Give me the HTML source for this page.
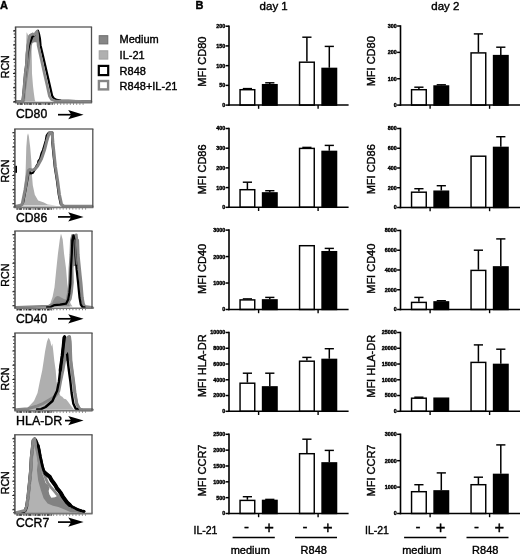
<!DOCTYPE html><html><head><meta charset="utf-8"><title>Figure</title>
<style>html,body{margin:0;padding:0;background:#fff}svg{display:block;will-change:transform}text{font-family:"Liberation Sans", sans-serif;fill:#000;stroke:#000;stroke-width:0.38px}</style>
</head><body>
<svg width="520" height="554" viewBox="0 0 520 554">
<rect width="520" height="554" fill="#fff"/>
<text x="0.1" y="8.7" font-size="11" font-weight="bold">A</text>
<text x="195.6" y="9.3" font-size="11" font-weight="bold">B</text>
<text x="259.6" y="10.3" font-size="11.5">day 1</text>
<text x="431.3" y="10.3" font-size="11.5">day 2</text>
<rect x="99.2" y="35.7" width="8.6" height="8.2" fill="#868686" stroke="#6b6b6b" stroke-width="1"/>
<rect x="99.2" y="50.8" width="8.6" height="8.3" fill="#b0b0b0" stroke="#a0a0a0" stroke-width="1"/>
<rect x="98.8" y="65.9" width="9.4" height="9.2" fill="#fff" stroke="#000" stroke-width="2.2"/>
<rect x="98.9" y="81" width="9.2" height="8.4" fill="#fff" stroke="#858585" stroke-width="2.4"/>
<text x="119.6" y="43.0" font-size="11">Medium</text>
<text x="119.6" y="58.9" font-size="11">IL-21</text>
<text x="119.6" y="74.6" font-size="11">R848</text>
<text x="119.6" y="90.2" font-size="11">R848+IL-21</text>
<polygon points="21.8,101.5 22.8,93.0 24.4,74.0 25.4,60.0 26.2,45.0 26.6,32.3 27.6,34.0 29.5,40.0 31.5,46.0 31.7,55.0 31.9,65.0 32.0,73.6 33.0,86.0 33.8,92.8 34.8,100.0 35.5,101.5" fill="#afafaf"/>
<polygon points="21.4,101.5 22.3,92.8 23.9,73.6 25.1,64.5 25.6,54.8 26.6,45.2 27.5,40.4 28.5,35.6 30.0,34.0 32.8,32.7 34.6,33.6 36.0,31.5 37.4,30.0 39.0,31.0 40.0,36.0 40.4,41.0 38.0,43.5 36.4,42.2 34.3,42.3 32.5,43.0 31.6,46.0 30.6,55.0 29.6,64.5 28.2,73.6 26.6,85.0 25.6,92.8 25.0,101.5" fill="#858585"/>
<polyline points="16.0,101.7 21.5,101.7 22.8,100.5 23.7,92.8 25.3,73.6 26.5,64.5 27.4,54.8 29.1,45.2 30.8,41.0 32.3,36.8 34.6,35.2 36.2,32.8 37.9,30.6 39.0,34.0 40.0,39.0 40.5,45.2 42.8,55.0 45.1,65.0 47.4,75.0 49.7,85.0 52.2,96.0 54.0,98.6 56.6,99.9 61.0,100.7 91.0,101.7" fill="none" stroke="#000" stroke-width="2.2" stroke-linejoin="round" stroke-linecap="round"/>
<polyline points="16.0,101.7 21.0,101.7 22.6,100.5 23.6,92.8 25.2,73.6 26.4,64.5 26.9,54.8 27.9,45.2 28.8,40.4 29.8,35.6 32.8,33.9 34.6,34.8 36.0,32.5 37.0,31.3 37.6,35.0 38.1,45.2 40.3,55.0 42.5,65.0 44.7,75.0 47.0,85.0 49.4,96.0 51.5,99.5 55.0,100.8 91.0,101.7" fill="none" stroke="#888888" stroke-width="2.7" stroke-linejoin="round" stroke-linecap="round"/>
<line x1="14.85" y1="27.0" x2="92.1" y2="27.0" stroke="#6c6c6c" stroke-width="1.6"/>
<line x1="14.85" y1="102.6" x2="92.1" y2="102.6" stroke="#777" stroke-width="1.6"/>
<line x1="15.6" y1="27.0" x2="15.6" y2="102.6" stroke="#484848" stroke-width="1.5"/>
<line x1="91.5" y1="27.0" x2="91.5" y2="102.6" stroke="#505050" stroke-width="1.3"/>
<line x1="14.4" y1="30.0" x2="14.4" y2="102.6" stroke="#333" stroke-width="1.3" stroke-dasharray="0.9 2.65"/>
<line x1="14.1" y1="30.4" x2="14.1" y2="102.6" stroke="#222" stroke-width="2.2" stroke-dasharray="1 13.2"/>
<line x1="18.6" y1="104.0" x2="85.5" y2="104.0" stroke="#777" stroke-width="1.3" stroke-dasharray="1 2.2"/>
<line x1="17.1" y1="104.1" x2="53.6" y2="104.1" stroke="#2a2a2a" stroke-width="1.5" stroke-dasharray="1.4 1.3 2.6 1.6 0.9 1.5"/>
<text x="16" y="118" font-size="12.2">CD80</text>
<line x1="58" y1="114.7" x2="72" y2="114.7" stroke="#000" stroke-width="1.7"/>
<polygon points="83.6,114.7 68.2,110.10000000000001 71.2,114.7 68.2,119.3" fill="#000"/>
<text transform="translate(8.6,66.8) rotate(-90)" text-anchor="middle" font-size="10.6">RCN</text>
<polygon points="21.0,205.6 24.0,192.0 25.6,172.0 25.9,161.7 26.3,147.2 27.2,136.0 28.0,133.3 28.8,136.0 30.2,147.2 31.4,161.7 31.9,174.7 32.8,185.2 34.8,194.8 38.1,200.6 43.9,202.5 47.7,204.5 56.4,205.6" fill="#adadad"/>
<polyline points="16.0,206.3 21.0,205.4 23.2,202.5 25.6,190.0 27.6,179.0 29.0,170.8 30.9,173.6 33.0,172.8 34.6,170.0 36.1,166.5 38.0,163.4 38.3,161.0 40.0,158.8 41.4,153.4 42.9,150.1 44.4,145.0 45.7,140.5 46.6,135.5 47.6,134.0 48.8,132.6 52.5,132.6 52.2,142.4 53.2,153.0 54.6,166.5 56.8,180.4 58.7,194.8 60.6,204.0 63.0,206.3" fill="none" stroke="#000" stroke-width="2.0" stroke-linejoin="round" stroke-linecap="round"/>
<polyline points="16.0,206.3 20.0,205.4 22.1,204.5 25.0,190.0 26.9,178.5 28.2,170.8 29.5,169.4 31.5,170.0 33.5,169.8 35.5,168.6 37.6,166.0 41.5,158.8 44.5,150.1 46.8,141.0 48.6,135.0 49.6,133.0 51.5,133.0 52.4,136.0 52.9,142.4 54.0,153.0 55.4,166.5 57.6,180.4 59.5,194.8 61.6,204.5 64.0,206.3 92.0,206.3" fill="none" stroke="#848484" stroke-width="3.0" stroke-linejoin="round" stroke-linecap="round"/>
<rect x="14.6" y="165.8" width="2.4" height="7" fill="#000"/>
<line x1="14.15" y1="128.95" x2="93.39999999999999" y2="128.95" stroke="#6c6c6c" stroke-width="1.6"/>
<line x1="14.15" y1="207.4" x2="93.39999999999999" y2="207.4" stroke="#777" stroke-width="1.6"/>
<line x1="14.9" y1="128.95" x2="14.9" y2="207.4" stroke="#484848" stroke-width="1.5"/>
<line x1="92.8" y1="128.95" x2="92.8" y2="207.4" stroke="#505050" stroke-width="1.3"/>
<line x1="13.700000000000001" y1="131.95" x2="13.700000000000001" y2="207.4" stroke="#333" stroke-width="1.3" stroke-dasharray="0.9 2.65"/>
<line x1="13.4" y1="132.35" x2="13.4" y2="207.4" stroke="#222" stroke-width="2.2" stroke-dasharray="1 13.2"/>
<line x1="17.9" y1="208.8" x2="86.8" y2="208.8" stroke="#777" stroke-width="1.3" stroke-dasharray="1 2.2"/>
<line x1="16.4" y1="208.9" x2="52.9" y2="208.9" stroke="#2a2a2a" stroke-width="1.5" stroke-dasharray="1.4 1.3 2.6 1.6 0.9 1.5"/>
<text x="16" y="221.7" font-size="12.2">CD86</text>
<line x1="58" y1="216.9" x2="72" y2="216.9" stroke="#000" stroke-width="1.7"/>
<polygon points="83.6,216.9 68.2,212.3 71.2,216.9 68.2,221.5" fill="#000"/>
<text transform="translate(8.6,171.1) rotate(-90)" text-anchor="middle" font-size="10.6">RCN</text>
<polygon points="49.5,306.5 50.6,302.6 52.6,296.8 54.5,287.2 56.4,268.3 57.9,254.0 59.8,239.6 60.8,234.3 61.2,234.3 62.7,239.6 64.1,254.0 66.0,268.3 67.2,282.4 68.0,292.0 69.0,299.0 70.8,304.0 72.5,306.5" fill="#afafaf"/>
<polygon points="51.0,306.5 53.0,301.0 55.0,297.6 57.0,296.0 59.0,296.2 61.0,297.6 64.0,299.0 67.0,300.0 69.0,304.0 70.0,306.5" fill="#8c8c8c"/>
<polygon points="72.4,266.0 73.9,254.0 74.5,241.0 75.3,235.2 76.4,234.8 76.9,239.6 77.4,254.0 78.6,266.0" fill="#888888"/>
<polyline points="16.0,307.2 49.0,306.0 52.0,304.4 56.0,303.0 60.0,302.6 64.0,302.4 68.5,302.0 70.4,298.8 71.6,292.0 72.5,282.4 72.2,268.0 73.9,254.0 74.5,241.0 75.3,235.2 76.4,234.8 76.9,239.6 77.4,254.0 78.8,268.0 79.5,275.0 80.3,282.4 81.5,296.8 82.6,303.0 84.3,306.3 92.0,307.2" fill="none" stroke="#888888" stroke-width="2.6" stroke-linejoin="round" stroke-linecap="round"/>
<polyline points="64.9,303.7 67.1,299.5 68.3,292.7 69.3,283.1 69.8,268.7 70.7,254.7 71.2,240.3 72.4,235.3 73.5,240.3" fill="none" stroke="#888888" stroke-width="2.4" stroke-linejoin="round" stroke-linecap="round"/>
<polyline points="77.9,240.3 78.4,254.7 79.8,268.7 80.5,275.7 81.3,283.1 82.5,297.5 83.6,303.7 85.3,307.0 93.0,307.9" fill="none" stroke="#888888" stroke-width="2.4" stroke-linejoin="round" stroke-linecap="round"/>
<polyline points="47.0,307.3 50.6,307.0 54.5,305.1 60.0,304.7 66.0,303.7 68.2,299.5 69.4,292.7 70.4,283.1 70.9,268.7 71.8,254.7 72.3,240.3 73.5,235.3 74.6,240.3 75.4,254.7 76.6,269.2 78.1,283.1 79.5,297.5 80.8,304.7 82.4,307.0 84.5,307.4" fill="none" stroke="#000" stroke-width="2.2" stroke-linejoin="round" stroke-linecap="round"/>
<polyline points="75.0,240.0 75.7,254.0 76.6,264.0" fill="none" stroke="#6a6a6a" stroke-width="1.6" stroke-linejoin="round" stroke-linecap="round"/>
<line x1="14.25" y1="230.95" x2="92.6" y2="230.95" stroke="#6c6c6c" stroke-width="1.6"/>
<line x1="14.25" y1="308.2" x2="92.6" y2="308.2" stroke="#777" stroke-width="1.6"/>
<line x1="15.0" y1="230.95" x2="15.0" y2="308.2" stroke="#484848" stroke-width="1.5"/>
<line x1="92.0" y1="230.95" x2="92.0" y2="308.2" stroke="#505050" stroke-width="1.3"/>
<line x1="13.8" y1="233.95" x2="13.8" y2="308.2" stroke="#333" stroke-width="1.3" stroke-dasharray="0.9 2.65"/>
<line x1="13.5" y1="234.35" x2="13.5" y2="308.2" stroke="#222" stroke-width="2.2" stroke-dasharray="1 13.2"/>
<line x1="18.0" y1="309.59999999999997" x2="86.0" y2="309.59999999999997" stroke="#777" stroke-width="1.3" stroke-dasharray="1 2.2"/>
<line x1="16.5" y1="309.7" x2="53.0" y2="309.7" stroke="#2a2a2a" stroke-width="1.5" stroke-dasharray="1.4 1.3 2.6 1.6 0.9 1.5"/>
<text x="16" y="323.3" font-size="12.2">CD40</text>
<line x1="58" y1="318.8" x2="72" y2="318.8" stroke="#000" stroke-width="1.7"/>
<polygon points="83.6,318.8 68.2,314.2 71.2,318.8 68.2,323.40000000000003" fill="#000"/>
<text transform="translate(8.6,275.2) rotate(-90)" text-anchor="middle" font-size="10.6">RCN</text>
<polygon points="26.0,409.4 29.5,405.8 34.0,401.0 37.5,393.0 39.8,381.5 42.2,370.5 43.7,360.8 45.1,351.2 47.0,341.6 48.5,337.8 49.4,339.0 50.4,341.6 51.4,346.4 52.3,343.5 53.3,351.2 54.3,360.8 55.7,370.5 56.6,381.5 58.3,390.8 60.6,396.0 62.0,396.6 64.0,398.8 66.0,399.2 67.5,401.0 71.0,405.8 72.7,408.0 74.0,409.4" fill="#afafaf"/>
<polygon points="64.6,360.8 65.6,351.0 67.0,341.6 68.0,337.3 69.2,336.5 69.8,341.6 70.2,351.2 70.6,360.8" fill="#888888"/>
<polyline points="16.0,409.8 28.0,408.6 32.0,407.5 37.5,405.8 43.0,403.5 49.0,400.0 54.8,396.5 57.5,393.5 58.9,390.8 60.6,381.5 62.9,370.5 64.6,360.8 65.6,351.0 67.0,341.6 68.0,337.3 69.2,336.5 69.8,341.6 70.2,351.2 70.6,360.8 71.8,370.5 73.3,381.5 74.7,393.0 76.5,403.4 79.0,408.6 82.0,409.8 92.0,409.8" fill="none" stroke="#888888" stroke-width="2.9" stroke-linejoin="round" stroke-linecap="round"/>
<polyline points="37.0,409.4 41.0,409.2 45.6,407.0 49.0,404.0 52.5,401.0 55.4,394.2 57.1,390.8 58.9,381.5 60.2,370.5 62.2,356.0 63.2,346.8 64.1,337.6 64.6,336.8 65.5,339.3 66.5,346.8 67.7,360.8 68.9,370.5 70.4,381.5 71.6,393.0 73.3,403.4 75.6,408.6 78.0,409.4" fill="none" stroke="#000" stroke-width="2.4" stroke-linejoin="round" stroke-linecap="round"/>
<polygon points="65.4,338.6 66.6,337.0 69.2,336.2 70.6,337.5 71.2,345.0 71.6,354.0 69.0,354.5 67.8,352.0 66.4,354.0 64.4,354.0 64.7,346.8" fill="#888888"/>
<polyline points="60.2,370.5 62.2,356.0 63.2,346.8 64.1,337.6 64.6,336.8" fill="none" stroke="#000" stroke-width="3.2" stroke-linejoin="round" stroke-linecap="round"/>
<polyline points="69.9,336.5 70.5,341.6 70.9,351.2 71.3,360.8 72.5,370.5 74.0,381.5 75.4,393.0 77.2,403.4 79.7,408.6 82.7,409.8 92.7,409.8" fill="none" stroke="#888888" stroke-width="2.2" stroke-linejoin="round" stroke-linecap="round"/>
<line x1="14.25" y1="332.95" x2="92.6" y2="332.95" stroke="#6c6c6c" stroke-width="1.6"/>
<line x1="14.25" y1="410.6" x2="92.6" y2="410.6" stroke="#777" stroke-width="1.6"/>
<line x1="15.0" y1="332.95" x2="15.0" y2="410.6" stroke="#484848" stroke-width="1.5"/>
<line x1="92.0" y1="332.95" x2="92.0" y2="410.6" stroke="#505050" stroke-width="1.3"/>
<line x1="13.8" y1="335.95" x2="13.8" y2="410.6" stroke="#333" stroke-width="1.3" stroke-dasharray="0.9 2.65"/>
<line x1="13.5" y1="336.34999999999997" x2="13.5" y2="410.6" stroke="#222" stroke-width="2.2" stroke-dasharray="1 13.2"/>
<line x1="18.0" y1="412.0" x2="86.0" y2="412.0" stroke="#777" stroke-width="1.3" stroke-dasharray="1 2.2"/>
<line x1="16.5" y1="412.1" x2="53.0" y2="412.1" stroke="#2a2a2a" stroke-width="1.5" stroke-dasharray="1.4 1.3 2.6 1.6 0.9 1.5"/>
<text x="16" y="425.3" font-size="12.45">HLA-DR</text>
<line x1="65" y1="420.6" x2="72" y2="420.6" stroke="#000" stroke-width="1.7"/>
<polygon points="83.6,420.6 68.2,416.0 71.2,420.6 68.2,425.20000000000005" fill="#000"/>
<text transform="translate(8.6,379.0) rotate(-90)" text-anchor="middle" font-size="10.6">RCN</text>
<polygon points="22.5,512.7 24.0,510.4 25.4,506.3 26.7,497.0 28.1,483.5 29.4,470.0 30.0,458.0 31.0,448.8 31.9,440.4 33.4,438.8 34.8,438.4 36.4,440.6 37.6,448.0 38.6,456.0 39.8,464.0 41.0,470.0 44.2,478.4 45.6,483.0 48.4,485.4 49.4,488.6 48.6,491.0 49.4,494.5 51.3,497.8 55.0,497.2 58.7,495.0 60.5,496.2 62.4,499.1 65.5,503.0 71.8,508.0 77.2,510.6 80.0,512.7" fill="#828282"/>
<polygon points="23.9,512.7 26.4,504.0 28.3,487.0 29.9,467.8 31.2,453.0 32.3,443.9 34.3,439.4 35.0,440.0 36.0,448.0 37.0,456.0 37.8,463.0 36.9,470.0 38.2,480.8 40.9,490.2 43.6,498.3 47.6,503.6 53.0,505.7 58.4,507.0 65.1,509.7 72.0,512.7" fill="#b2b2b2"/>
<polyline points="22.6,512.7 25.3,510.4 26.7,506.3 28.0,497.0 29.4,483.5 30.7,470.0 31.3,458.0 32.3,448.8 33.2,440.4 34.7,438.8 34.9,439.0 36.0,440.6 37.4,444.0 38.2,445.8 39.0,449.5 40.2,456.2 41.2,461.0 42.4,466.5 43.6,470.5 45.4,473.2 47.5,475.0 49.8,476.9 51.6,480.2 53.5,482.8 55.4,485.4 57.2,488.7 59.0,490.6 60.9,493.2 62.8,496.6 64.6,499.1 67.0,502.4 69.8,505.0 72.6,507.2 75.7,508.7 78.6,510.0 81.6,510.9 84.0,511.5" fill="none" stroke="#000" stroke-width="3.0" stroke-linejoin="round" stroke-linecap="round"/>
<polyline points="16.0,512.7 25.1,510.4 26.5,506.3 27.8,497.0 29.2,483.5 30.5,470.0 31.1,458.0 32.1,448.8 33.0,440.4 34.5,438.8 34.6,439.1 35.2,441.6 36.0,447.0 37.4,452.0 38.4,458.0 39.6,464.0 41.4,469.0 43.9,473.5 45.8,478.4 47.6,482.8 50.4,486.6 53.5,490.2 56.0,493.2 58.7,496.1 61.2,498.5 63.9,500.8 66.8,503.2 69.8,505.4 74.5,509.0 80.0,512.7" fill="none" stroke="#888888" stroke-width="2.8" stroke-linejoin="round" stroke-linecap="round"/>
<polyline points="38.2,445.8 39.0,449.5 40.2,456.2 41.2,461.0 42.4,466.5 43.6,470.5 45.4,473.2 47.5,475.0 49.8,476.9 51.6,480.2 53.5,482.8 55.4,485.4 57.2,488.7 59.0,490.6 60.9,493.2 62.8,496.6 64.6,499.1 67.0,502.4 69.8,505.0 72.6,507.2 75.7,508.7 78.6,510.0 81.6,510.9 84.0,511.5" fill="none" stroke="#000" stroke-width="2.6" stroke-linejoin="round" stroke-linecap="round"/>
<polyline points="45.4,473.2 47.5,475.0 49.8,476.9 51.6,480.2 53.5,482.8 55.4,485.4 57.2,488.7 59.0,490.6 60.9,493.2 62.8,496.6 64.6,499.1 67.0,502.4 69.8,505.0" fill="none" stroke="#000" stroke-width="4.0" stroke-linejoin="round" stroke-linecap="round"/>
<polyline points="28.0,506.3 29.3,497.0 30.7,483.5 32.0,470.0 32.6,458.0 33.6,448.8 34.5,440.4" fill="none" stroke="#8f8f8f" stroke-width="0.9" stroke-linejoin="round" stroke-linecap="round"/>
<line x1="14.15" y1="434.8" x2="92.6" y2="434.8" stroke="#6c6c6c" stroke-width="1.6"/>
<line x1="14.15" y1="513.6" x2="92.6" y2="513.6" stroke="#777" stroke-width="1.6"/>
<line x1="14.9" y1="434.8" x2="14.9" y2="513.6" stroke="#484848" stroke-width="1.5"/>
<line x1="92.0" y1="434.8" x2="92.0" y2="513.6" stroke="#505050" stroke-width="1.3"/>
<line x1="13.700000000000001" y1="437.8" x2="13.700000000000001" y2="513.6" stroke="#333" stroke-width="1.3" stroke-dasharray="0.9 2.65"/>
<line x1="13.4" y1="438.2" x2="13.4" y2="513.6" stroke="#222" stroke-width="2.2" stroke-dasharray="1 13.2"/>
<line x1="17.9" y1="515.0" x2="86.0" y2="515.0" stroke="#777" stroke-width="1.3" stroke-dasharray="1 2.2"/>
<line x1="16.4" y1="515.1" x2="52.9" y2="515.1" stroke="#2a2a2a" stroke-width="1.5" stroke-dasharray="1.4 1.3 2.6 1.6 0.9 1.5"/>
<text x="16" y="527.0" font-size="12.2">CCR7</text>
<line x1="58" y1="522.1" x2="72" y2="522.1" stroke="#000" stroke-width="1.7"/>
<polygon points="83.6,522.1 68.2,517.5 71.2,522.1 68.2,526.7" fill="#000"/>
<text transform="translate(8.6,482.8) rotate(-90)" text-anchor="middle" font-size="10.6">RCN</text>
<line x1="225.6" y1="26.2" x2="229.0" y2="26.2" stroke="#000" stroke-width="1.5"/>
<text x="225.3" y="28.15" text-anchor="end" font-size="5.4" font-weight="bold">200</text>
<line x1="225.6" y1="45.925" x2="229.0" y2="45.925" stroke="#000" stroke-width="1.5"/>
<text x="225.3" y="47.875" text-anchor="end" font-size="5.4" font-weight="bold">150</text>
<line x1="225.6" y1="65.64999999999999" x2="229.0" y2="65.64999999999999" stroke="#000" stroke-width="1.5"/>
<text x="225.3" y="67.6" text-anchor="end" font-size="5.4" font-weight="bold">100</text>
<line x1="225.6" y1="85.375" x2="229.0" y2="85.375" stroke="#000" stroke-width="1.5"/>
<text x="225.3" y="87.325" text-anchor="end" font-size="5.4" font-weight="bold">50</text>
<line x1="225.6" y1="105.1" x2="229.0" y2="105.1" stroke="#000" stroke-width="1.5"/>
<text x="225.3" y="107.05" text-anchor="end" font-size="5.4" font-weight="bold">0</text>
<line x1="247.4" y1="89.05" x2="247.4" y2="88.60000000000001" stroke="#000" stroke-width="1.5"/>
<line x1="242.8" y1="88.60000000000001" x2="252.0" y2="88.60000000000001" stroke="#000" stroke-width="1.45"/>
<rect x="240.05" y="89.70" width="14.70" height="15.40" fill="#fff" stroke="#000" stroke-width="1.45"/>
<line x1="269.8" y1="84.05" x2="269.8" y2="82.80000000000001" stroke="#000" stroke-width="1.5"/>
<line x1="265.2" y1="82.80000000000001" x2="274.40000000000003" y2="82.80000000000001" stroke="#000" stroke-width="1.45"/>
<rect x="262.55" y="84.70" width="14.50" height="20.40" fill="#000" stroke="#000" stroke-width="1.45"/>
<line x1="306.9" y1="61.55" x2="306.9" y2="37.199999999999996" stroke="#000" stroke-width="1.5"/>
<line x1="302.29999999999995" y1="37.199999999999996" x2="311.5" y2="37.199999999999996" stroke="#000" stroke-width="1.45"/>
<rect x="299.55" y="62.20" width="14.70" height="42.90" fill="#fff" stroke="#000" stroke-width="1.45"/>
<line x1="329.3" y1="67.75" x2="329.3" y2="46.4" stroke="#000" stroke-width="1.5"/>
<line x1="324.7" y1="46.4" x2="333.90000000000003" y2="46.4" stroke="#000" stroke-width="1.45"/>
<rect x="322.05" y="68.40" width="14.50" height="36.70" fill="#000" stroke="#000" stroke-width="1.45"/>
<line x1="229.0" y1="25.45" x2="229.0" y2="105.85" stroke="#000" stroke-width="1.6"/>
<line x1="228.2" y1="105.1" x2="348.6" y2="105.1" stroke="#000" stroke-width="1.5"/>
<line x1="258.6" y1="105.1" x2="258.6" y2="108.8" stroke="#000" stroke-width="1.4"/>
<line x1="318.1" y1="105.1" x2="318.1" y2="108.8" stroke="#000" stroke-width="1.4"/>
<text transform="translate(205.7,61.6) rotate(-90)" text-anchor="middle" font-size="11">MFI CD80</text>
<line x1="397.1" y1="26.0" x2="400.5" y2="26.0" stroke="#000" stroke-width="1.5"/>
<text x="396.8" y="27.95" text-anchor="end" font-size="5.4" font-weight="bold">300</text>
<line x1="397.1" y1="52.36666666666666" x2="400.5" y2="52.36666666666666" stroke="#000" stroke-width="1.5"/>
<text x="396.8" y="54.31666666666666" text-anchor="end" font-size="5.4" font-weight="bold">200</text>
<line x1="397.1" y1="78.73333333333332" x2="400.5" y2="78.73333333333332" stroke="#000" stroke-width="1.5"/>
<text x="396.8" y="80.68333333333332" text-anchor="end" font-size="5.4" font-weight="bold">100</text>
<line x1="397.1" y1="105.1" x2="400.5" y2="105.1" stroke="#000" stroke-width="1.5"/>
<text x="396.8" y="107.05" text-anchor="end" font-size="5.4" font-weight="bold">0</text>
<line x1="418.9" y1="89.05" x2="418.9" y2="87.2" stroke="#000" stroke-width="1.5"/>
<line x1="414.29999999999995" y1="87.2" x2="423.5" y2="87.2" stroke="#000" stroke-width="1.45"/>
<rect x="411.55" y="89.70" width="14.70" height="15.40" fill="#fff" stroke="#000" stroke-width="1.45"/>
<line x1="441.3" y1="85.35" x2="441.3" y2="84.80000000000001" stroke="#000" stroke-width="1.5"/>
<line x1="436.7" y1="84.80000000000001" x2="445.90000000000003" y2="84.80000000000001" stroke="#000" stroke-width="1.45"/>
<rect x="434.05" y="86.00" width="14.50" height="19.10" fill="#000" stroke="#000" stroke-width="1.45"/>
<line x1="478.4" y1="52.25" x2="478.4" y2="33.9" stroke="#000" stroke-width="1.5"/>
<line x1="473.79999999999995" y1="33.9" x2="483.0" y2="33.9" stroke="#000" stroke-width="1.45"/>
<rect x="471.05" y="52.90" width="14.70" height="52.20" fill="#fff" stroke="#000" stroke-width="1.45"/>
<line x1="500.8" y1="54.95" x2="500.8" y2="47.199999999999996" stroke="#000" stroke-width="1.5"/>
<line x1="496.2" y1="47.199999999999996" x2="505.40000000000003" y2="47.199999999999996" stroke="#000" stroke-width="1.45"/>
<rect x="493.55" y="55.60" width="14.50" height="49.50" fill="#000" stroke="#000" stroke-width="1.45"/>
<line x1="400.5" y1="25.25" x2="400.5" y2="105.85" stroke="#000" stroke-width="1.6"/>
<line x1="399.7" y1="105.1" x2="520.1" y2="105.1" stroke="#000" stroke-width="1.5"/>
<line x1="430.1" y1="105.1" x2="430.1" y2="108.8" stroke="#000" stroke-width="1.4"/>
<line x1="489.6" y1="105.1" x2="489.6" y2="108.8" stroke="#000" stroke-width="1.4"/>
<text transform="translate(374.6,61.3) rotate(-90)" text-anchor="middle" font-size="11">MFI CD80</text>
<line x1="225.6" y1="128.5" x2="229.0" y2="128.5" stroke="#000" stroke-width="1.5"/>
<text x="225.3" y="130.45" text-anchor="end" font-size="5.4" font-weight="bold">400</text>
<line x1="225.6" y1="148.2" x2="229.0" y2="148.2" stroke="#000" stroke-width="1.5"/>
<text x="225.3" y="150.14999999999998" text-anchor="end" font-size="5.4" font-weight="bold">300</text>
<line x1="225.6" y1="167.9" x2="229.0" y2="167.9" stroke="#000" stroke-width="1.5"/>
<text x="225.3" y="169.85" text-anchor="end" font-size="5.4" font-weight="bold">200</text>
<line x1="225.6" y1="187.60000000000002" x2="229.0" y2="187.60000000000002" stroke="#000" stroke-width="1.5"/>
<text x="225.3" y="189.55" text-anchor="end" font-size="5.4" font-weight="bold">100</text>
<line x1="225.6" y1="207.3" x2="229.0" y2="207.3" stroke="#000" stroke-width="1.5"/>
<text x="225.3" y="209.25" text-anchor="end" font-size="5.4" font-weight="bold">0</text>
<line x1="247.4" y1="189.05" x2="247.4" y2="182.20000000000002" stroke="#000" stroke-width="1.5"/>
<line x1="242.8" y1="182.20000000000002" x2="252.0" y2="182.20000000000002" stroke="#000" stroke-width="1.45"/>
<rect x="240.05" y="189.70" width="14.70" height="17.60" fill="#fff" stroke="#000" stroke-width="1.45"/>
<line x1="269.8" y1="192.25" x2="269.8" y2="190.70000000000002" stroke="#000" stroke-width="1.5"/>
<line x1="265.2" y1="190.70000000000002" x2="274.40000000000003" y2="190.70000000000002" stroke="#000" stroke-width="1.45"/>
<rect x="262.55" y="192.90" width="14.50" height="14.40" fill="#000" stroke="#000" stroke-width="1.45"/>
<line x1="306.9" y1="147.75" x2="306.9" y2="147.4" stroke="#000" stroke-width="1.5"/>
<line x1="302.29999999999995" y1="147.4" x2="311.5" y2="147.4" stroke="#000" stroke-width="1.45"/>
<rect x="299.55" y="148.40" width="14.70" height="58.90" fill="#fff" stroke="#000" stroke-width="1.45"/>
<line x1="329.3" y1="150.75" x2="329.3" y2="145.4" stroke="#000" stroke-width="1.5"/>
<line x1="324.7" y1="145.4" x2="333.90000000000003" y2="145.4" stroke="#000" stroke-width="1.45"/>
<rect x="322.05" y="151.40" width="14.50" height="55.90" fill="#000" stroke="#000" stroke-width="1.45"/>
<line x1="229.0" y1="127.75" x2="229.0" y2="208.05" stroke="#000" stroke-width="1.6"/>
<line x1="228.2" y1="207.3" x2="348.6" y2="207.3" stroke="#000" stroke-width="1.5"/>
<line x1="258.6" y1="207.3" x2="258.6" y2="211.0" stroke="#000" stroke-width="1.4"/>
<line x1="318.1" y1="207.3" x2="318.1" y2="211.0" stroke="#000" stroke-width="1.4"/>
<text transform="translate(205.7,169.5) rotate(-90)" text-anchor="middle" font-size="11">MFI CD86</text>
<line x1="397.1" y1="128.5" x2="400.5" y2="128.5" stroke="#000" stroke-width="1.5"/>
<text x="396.8" y="130.45" text-anchor="end" font-size="5.4" font-weight="bold">800</text>
<line x1="397.1" y1="148.25" x2="400.5" y2="148.25" stroke="#000" stroke-width="1.5"/>
<text x="396.8" y="150.2" text-anchor="end" font-size="5.4" font-weight="bold">600</text>
<line x1="397.1" y1="168.0" x2="400.5" y2="168.0" stroke="#000" stroke-width="1.5"/>
<text x="396.8" y="169.95" text-anchor="end" font-size="5.4" font-weight="bold">400</text>
<line x1="397.1" y1="187.75" x2="400.5" y2="187.75" stroke="#000" stroke-width="1.5"/>
<text x="396.8" y="189.7" text-anchor="end" font-size="5.4" font-weight="bold">200</text>
<line x1="397.1" y1="207.5" x2="400.5" y2="207.5" stroke="#000" stroke-width="1.5"/>
<text x="396.8" y="209.45" text-anchor="end" font-size="5.4" font-weight="bold">0</text>
<line x1="418.9" y1="191.55" x2="418.9" y2="188.70000000000002" stroke="#000" stroke-width="1.5"/>
<line x1="414.29999999999995" y1="188.70000000000002" x2="423.5" y2="188.70000000000002" stroke="#000" stroke-width="1.45"/>
<rect x="411.55" y="192.20" width="14.70" height="15.30" fill="#fff" stroke="#000" stroke-width="1.45"/>
<line x1="441.3" y1="190.55" x2="441.3" y2="185.70000000000002" stroke="#000" stroke-width="1.5"/>
<line x1="436.7" y1="185.70000000000002" x2="445.90000000000003" y2="185.70000000000002" stroke="#000" stroke-width="1.45"/>
<rect x="434.05" y="191.20" width="14.50" height="16.30" fill="#000" stroke="#000" stroke-width="1.45"/>
<rect x="471.05" y="156.20" width="14.70" height="51.30" fill="#fff" stroke="#000" stroke-width="1.45"/>
<line x1="500.8" y1="146.75" x2="500.8" y2="136.70000000000002" stroke="#000" stroke-width="1.5"/>
<line x1="496.2" y1="136.70000000000002" x2="505.40000000000003" y2="136.70000000000002" stroke="#000" stroke-width="1.45"/>
<rect x="493.55" y="147.40" width="14.50" height="60.10" fill="#000" stroke="#000" stroke-width="1.45"/>
<line x1="400.5" y1="127.75" x2="400.5" y2="208.25" stroke="#000" stroke-width="1.6"/>
<line x1="399.7" y1="207.5" x2="520.1" y2="207.5" stroke="#000" stroke-width="1.5"/>
<line x1="430.1" y1="207.5" x2="430.1" y2="211.2" stroke="#000" stroke-width="1.4"/>
<line x1="489.6" y1="207.5" x2="489.6" y2="211.2" stroke="#000" stroke-width="1.4"/>
<text transform="translate(374.6,169.3) rotate(-90)" text-anchor="middle" font-size="11">MFI CD86</text>
<line x1="225.6" y1="230.1" x2="229.0" y2="230.1" stroke="#000" stroke-width="1.5"/>
<text x="225.3" y="232.04999999999998" text-anchor="end" font-size="5.4" font-weight="bold">3000</text>
<line x1="225.6" y1="256.56666666666666" x2="229.0" y2="256.56666666666666" stroke="#000" stroke-width="1.5"/>
<text x="225.3" y="258.51666666666665" text-anchor="end" font-size="5.4" font-weight="bold">2000</text>
<line x1="225.6" y1="283.0333333333333" x2="229.0" y2="283.0333333333333" stroke="#000" stroke-width="1.5"/>
<text x="225.3" y="284.9833333333333" text-anchor="end" font-size="5.4" font-weight="bold">1000</text>
<line x1="225.6" y1="309.5" x2="229.0" y2="309.5" stroke="#000" stroke-width="1.5"/>
<text x="225.3" y="311.45" text-anchor="end" font-size="5.4" font-weight="bold">0</text>
<line x1="247.4" y1="299.25" x2="247.4" y2="298.9" stroke="#000" stroke-width="1.5"/>
<line x1="242.8" y1="298.9" x2="252.0" y2="298.9" stroke="#000" stroke-width="1.45"/>
<rect x="240.05" y="299.90" width="14.70" height="9.60" fill="#fff" stroke="#000" stroke-width="1.45"/>
<line x1="269.8" y1="299.25" x2="269.8" y2="297.4" stroke="#000" stroke-width="1.5"/>
<line x1="265.2" y1="297.4" x2="274.40000000000003" y2="297.4" stroke="#000" stroke-width="1.45"/>
<rect x="262.55" y="299.90" width="14.50" height="9.60" fill="#000" stroke="#000" stroke-width="1.45"/>
<rect x="299.55" y="245.70" width="14.70" height="63.80" fill="#fff" stroke="#000" stroke-width="1.45"/>
<line x1="329.3" y1="251.05" x2="329.3" y2="248.4" stroke="#000" stroke-width="1.5"/>
<line x1="324.7" y1="248.4" x2="333.90000000000003" y2="248.4" stroke="#000" stroke-width="1.45"/>
<rect x="322.05" y="251.70" width="14.50" height="57.80" fill="#000" stroke="#000" stroke-width="1.45"/>
<line x1="229.0" y1="229.35" x2="229.0" y2="310.25" stroke="#000" stroke-width="1.6"/>
<line x1="228.2" y1="309.5" x2="348.6" y2="309.5" stroke="#000" stroke-width="1.5"/>
<line x1="258.6" y1="309.5" x2="258.6" y2="313.2" stroke="#000" stroke-width="1.4"/>
<line x1="318.1" y1="309.5" x2="318.1" y2="313.2" stroke="#000" stroke-width="1.4"/>
<text transform="translate(205.7,268.9) rotate(-90)" text-anchor="middle" font-size="11">MFI CD40</text>
<line x1="397.1" y1="230.5" x2="400.5" y2="230.5" stroke="#000" stroke-width="1.5"/>
<text x="396.8" y="232.45" text-anchor="end" font-size="5.4" font-weight="bold">8000</text>
<line x1="397.1" y1="250.25" x2="400.5" y2="250.25" stroke="#000" stroke-width="1.5"/>
<text x="396.8" y="252.2" text-anchor="end" font-size="5.4" font-weight="bold">6000</text>
<line x1="397.1" y1="270.0" x2="400.5" y2="270.0" stroke="#000" stroke-width="1.5"/>
<text x="396.8" y="271.95" text-anchor="end" font-size="5.4" font-weight="bold">4000</text>
<line x1="397.1" y1="289.75" x2="400.5" y2="289.75" stroke="#000" stroke-width="1.5"/>
<text x="396.8" y="291.7" text-anchor="end" font-size="5.4" font-weight="bold">2000</text>
<line x1="397.1" y1="309.5" x2="400.5" y2="309.5" stroke="#000" stroke-width="1.5"/>
<text x="396.8" y="311.45" text-anchor="end" font-size="5.4" font-weight="bold">0</text>
<line x1="418.9" y1="301.75" x2="418.9" y2="297.4" stroke="#000" stroke-width="1.5"/>
<line x1="414.29999999999995" y1="297.4" x2="423.5" y2="297.4" stroke="#000" stroke-width="1.45"/>
<rect x="411.55" y="302.40" width="14.70" height="7.10" fill="#fff" stroke="#000" stroke-width="1.45"/>
<line x1="441.3" y1="301.25" x2="441.3" y2="300.7" stroke="#000" stroke-width="1.5"/>
<line x1="436.7" y1="300.7" x2="445.90000000000003" y2="300.7" stroke="#000" stroke-width="1.45"/>
<rect x="434.05" y="301.90" width="14.50" height="7.60" fill="#000" stroke="#000" stroke-width="1.45"/>
<line x1="478.4" y1="269.75" x2="478.4" y2="250.20000000000002" stroke="#000" stroke-width="1.5"/>
<line x1="473.79999999999995" y1="250.20000000000002" x2="483.0" y2="250.20000000000002" stroke="#000" stroke-width="1.45"/>
<rect x="471.05" y="270.40" width="14.70" height="39.10" fill="#fff" stroke="#000" stroke-width="1.45"/>
<line x1="500.8" y1="266.25" x2="500.8" y2="238.9" stroke="#000" stroke-width="1.5"/>
<line x1="496.2" y1="238.9" x2="505.40000000000003" y2="238.9" stroke="#000" stroke-width="1.45"/>
<rect x="493.55" y="266.90" width="14.50" height="42.60" fill="#000" stroke="#000" stroke-width="1.45"/>
<line x1="400.5" y1="229.75" x2="400.5" y2="310.25" stroke="#000" stroke-width="1.6"/>
<line x1="399.7" y1="309.5" x2="520.1" y2="309.5" stroke="#000" stroke-width="1.5"/>
<line x1="430.1" y1="309.5" x2="430.1" y2="313.2" stroke="#000" stroke-width="1.4"/>
<line x1="489.6" y1="309.5" x2="489.6" y2="313.2" stroke="#000" stroke-width="1.4"/>
<text transform="translate(374.6,268.7) rotate(-90)" text-anchor="middle" font-size="11">MFI CD40</text>
<line x1="225.6" y1="332.5" x2="229.0" y2="332.5" stroke="#000" stroke-width="1.5"/>
<text x="225.3" y="334.45" text-anchor="end" font-size="5.4" font-weight="bold">10000</text>
<line x1="225.6" y1="348.26" x2="229.0" y2="348.26" stroke="#000" stroke-width="1.5"/>
<text x="225.3" y="350.21" text-anchor="end" font-size="5.4" font-weight="bold">8000</text>
<line x1="225.6" y1="364.02" x2="229.0" y2="364.02" stroke="#000" stroke-width="1.5"/>
<text x="225.3" y="365.96999999999997" text-anchor="end" font-size="5.4" font-weight="bold">6000</text>
<line x1="225.6" y1="379.78000000000003" x2="229.0" y2="379.78000000000003" stroke="#000" stroke-width="1.5"/>
<text x="225.3" y="381.73" text-anchor="end" font-size="5.4" font-weight="bold">4000</text>
<line x1="225.6" y1="395.54" x2="229.0" y2="395.54" stroke="#000" stroke-width="1.5"/>
<text x="225.3" y="397.49" text-anchor="end" font-size="5.4" font-weight="bold">2000</text>
<line x1="225.6" y1="411.3" x2="229.0" y2="411.3" stroke="#000" stroke-width="1.5"/>
<text x="225.3" y="413.25" text-anchor="end" font-size="5.4" font-weight="bold">0</text>
<line x1="247.4" y1="382.55" x2="247.4" y2="373.2" stroke="#000" stroke-width="1.5"/>
<line x1="242.8" y1="373.2" x2="252.0" y2="373.2" stroke="#000" stroke-width="1.45"/>
<rect x="240.05" y="383.20" width="14.70" height="28.10" fill="#fff" stroke="#000" stroke-width="1.45"/>
<line x1="269.8" y1="386.25" x2="269.8" y2="373.2" stroke="#000" stroke-width="1.5"/>
<line x1="265.2" y1="373.2" x2="274.40000000000003" y2="373.2" stroke="#000" stroke-width="1.45"/>
<rect x="262.55" y="386.90" width="14.50" height="24.40" fill="#000" stroke="#000" stroke-width="1.45"/>
<line x1="306.9" y1="360.55" x2="306.9" y2="357.4" stroke="#000" stroke-width="1.5"/>
<line x1="302.29999999999995" y1="357.4" x2="311.5" y2="357.4" stroke="#000" stroke-width="1.45"/>
<rect x="299.55" y="361.20" width="14.70" height="50.10" fill="#fff" stroke="#000" stroke-width="1.45"/>
<line x1="329.3" y1="358.75" x2="329.3" y2="348.7" stroke="#000" stroke-width="1.5"/>
<line x1="324.7" y1="348.7" x2="333.90000000000003" y2="348.7" stroke="#000" stroke-width="1.45"/>
<rect x="322.05" y="359.40" width="14.50" height="51.90" fill="#000" stroke="#000" stroke-width="1.45"/>
<line x1="229.0" y1="331.75" x2="229.0" y2="412.05" stroke="#000" stroke-width="1.6"/>
<line x1="228.2" y1="411.3" x2="348.6" y2="411.3" stroke="#000" stroke-width="1.5"/>
<line x1="258.6" y1="411.3" x2="258.6" y2="415.0" stroke="#000" stroke-width="1.4"/>
<line x1="318.1" y1="411.3" x2="318.1" y2="415.0" stroke="#000" stroke-width="1.4"/>
<text transform="translate(205.7,365.9) rotate(-90)" text-anchor="middle" font-size="11">MFI HLA-DR</text>
<line x1="397.1" y1="332.5" x2="400.5" y2="332.5" stroke="#000" stroke-width="1.5"/>
<text x="396.8" y="334.45" text-anchor="end" font-size="5.4" font-weight="bold">25000</text>
<line x1="397.1" y1="348.26" x2="400.5" y2="348.26" stroke="#000" stroke-width="1.5"/>
<text x="396.8" y="350.21" text-anchor="end" font-size="5.4" font-weight="bold">20000</text>
<line x1="397.1" y1="364.02" x2="400.5" y2="364.02" stroke="#000" stroke-width="1.5"/>
<text x="396.8" y="365.96999999999997" text-anchor="end" font-size="5.4" font-weight="bold">15000</text>
<line x1="397.1" y1="379.78000000000003" x2="400.5" y2="379.78000000000003" stroke="#000" stroke-width="1.5"/>
<text x="396.8" y="381.73" text-anchor="end" font-size="5.4" font-weight="bold">10000</text>
<line x1="397.1" y1="395.54" x2="400.5" y2="395.54" stroke="#000" stroke-width="1.5"/>
<text x="396.8" y="397.49" text-anchor="end" font-size="5.4" font-weight="bold">5000</text>
<line x1="397.1" y1="411.3" x2="400.5" y2="411.3" stroke="#000" stroke-width="1.5"/>
<text x="396.8" y="413.25" text-anchor="end" font-size="5.4" font-weight="bold">0</text>
<line x1="418.9" y1="397.55" x2="418.9" y2="397.2" stroke="#000" stroke-width="1.5"/>
<line x1="414.29999999999995" y1="397.2" x2="423.5" y2="397.2" stroke="#000" stroke-width="1.45"/>
<rect x="411.55" y="398.20" width="14.70" height="13.10" fill="#fff" stroke="#000" stroke-width="1.45"/>
<rect x="434.05" y="398.20" width="14.50" height="13.10" fill="#000" stroke="#000" stroke-width="1.45"/>
<line x1="478.4" y1="361.75" x2="478.4" y2="344.9" stroke="#000" stroke-width="1.5"/>
<line x1="473.79999999999995" y1="344.9" x2="483.0" y2="344.9" stroke="#000" stroke-width="1.45"/>
<rect x="471.05" y="362.40" width="14.70" height="48.90" fill="#fff" stroke="#000" stroke-width="1.45"/>
<line x1="500.8" y1="363.75" x2="500.8" y2="349.2" stroke="#000" stroke-width="1.5"/>
<line x1="496.2" y1="349.2" x2="505.40000000000003" y2="349.2" stroke="#000" stroke-width="1.45"/>
<rect x="493.55" y="364.40" width="14.50" height="46.90" fill="#000" stroke="#000" stroke-width="1.45"/>
<line x1="400.5" y1="331.75" x2="400.5" y2="412.05" stroke="#000" stroke-width="1.6"/>
<line x1="399.7" y1="411.3" x2="520.1" y2="411.3" stroke="#000" stroke-width="1.5"/>
<line x1="430.1" y1="411.3" x2="430.1" y2="415.0" stroke="#000" stroke-width="1.4"/>
<line x1="489.6" y1="411.3" x2="489.6" y2="415.0" stroke="#000" stroke-width="1.4"/>
<text transform="translate(374.6,366.3) rotate(-90)" text-anchor="middle" font-size="11">MFI HLA-DR</text>
<line x1="225.6" y1="434.3" x2="229.0" y2="434.3" stroke="#000" stroke-width="1.5"/>
<text x="225.3" y="436.25" text-anchor="end" font-size="5.4" font-weight="bold">2500</text>
<line x1="225.6" y1="450.14" x2="229.0" y2="450.14" stroke="#000" stroke-width="1.5"/>
<text x="225.3" y="452.09" text-anchor="end" font-size="5.4" font-weight="bold">2000</text>
<line x1="225.6" y1="465.98" x2="229.0" y2="465.98" stroke="#000" stroke-width="1.5"/>
<text x="225.3" y="467.93" text-anchor="end" font-size="5.4" font-weight="bold">1500</text>
<line x1="225.6" y1="481.82" x2="229.0" y2="481.82" stroke="#000" stroke-width="1.5"/>
<text x="225.3" y="483.77" text-anchor="end" font-size="5.4" font-weight="bold">1000</text>
<line x1="225.6" y1="497.66" x2="229.0" y2="497.66" stroke="#000" stroke-width="1.5"/>
<text x="225.3" y="499.61" text-anchor="end" font-size="5.4" font-weight="bold">500</text>
<line x1="225.6" y1="513.5" x2="229.0" y2="513.5" stroke="#000" stroke-width="1.5"/>
<text x="225.3" y="515.45" text-anchor="end" font-size="5.4" font-weight="bold">0</text>
<line x1="247.4" y1="499.75" x2="247.4" y2="496.7" stroke="#000" stroke-width="1.5"/>
<line x1="242.8" y1="496.7" x2="252.0" y2="496.7" stroke="#000" stroke-width="1.45"/>
<rect x="240.05" y="500.40" width="14.70" height="13.10" fill="#fff" stroke="#000" stroke-width="1.45"/>
<line x1="269.8" y1="499.75" x2="269.8" y2="499.4" stroke="#000" stroke-width="1.5"/>
<line x1="265.2" y1="499.4" x2="274.40000000000003" y2="499.4" stroke="#000" stroke-width="1.45"/>
<rect x="262.55" y="500.40" width="14.50" height="13.10" fill="#000" stroke="#000" stroke-width="1.45"/>
<line x1="306.9" y1="453.05" x2="306.9" y2="439.2" stroke="#000" stroke-width="1.5"/>
<line x1="302.29999999999995" y1="439.2" x2="311.5" y2="439.2" stroke="#000" stroke-width="1.45"/>
<rect x="299.55" y="453.70" width="14.70" height="59.80" fill="#fff" stroke="#000" stroke-width="1.45"/>
<line x1="329.3" y1="462.25" x2="329.3" y2="450.4" stroke="#000" stroke-width="1.5"/>
<line x1="324.7" y1="450.4" x2="333.90000000000003" y2="450.4" stroke="#000" stroke-width="1.45"/>
<rect x="322.05" y="462.90" width="14.50" height="50.60" fill="#000" stroke="#000" stroke-width="1.45"/>
<line x1="229.0" y1="433.55" x2="229.0" y2="514.25" stroke="#000" stroke-width="1.6"/>
<line x1="228.2" y1="513.5" x2="348.6" y2="513.5" stroke="#000" stroke-width="1.5"/>
<line x1="258.6" y1="513.5" x2="258.6" y2="517.2" stroke="#000" stroke-width="1.4"/>
<line x1="318.1" y1="513.5" x2="318.1" y2="517.2" stroke="#000" stroke-width="1.4"/>
<text transform="translate(205.7,470.5) rotate(-90)" text-anchor="middle" font-size="11">MFI CCR7</text>
<line x1="397.1" y1="434.3" x2="400.5" y2="434.3" stroke="#000" stroke-width="1.5"/>
<text x="396.8" y="436.25" text-anchor="end" font-size="5.4" font-weight="bold">3000</text>
<line x1="397.1" y1="460.7" x2="400.5" y2="460.7" stroke="#000" stroke-width="1.5"/>
<text x="396.8" y="462.65" text-anchor="end" font-size="5.4" font-weight="bold">2000</text>
<line x1="397.1" y1="487.1" x2="400.5" y2="487.1" stroke="#000" stroke-width="1.5"/>
<text x="396.8" y="489.05" text-anchor="end" font-size="5.4" font-weight="bold">1000</text>
<line x1="397.1" y1="513.5" x2="400.5" y2="513.5" stroke="#000" stroke-width="1.5"/>
<text x="396.8" y="515.45" text-anchor="end" font-size="5.4" font-weight="bold">0</text>
<line x1="418.9" y1="491.05" x2="418.9" y2="484.7" stroke="#000" stroke-width="1.5"/>
<line x1="414.29999999999995" y1="484.7" x2="423.5" y2="484.7" stroke="#000" stroke-width="1.45"/>
<rect x="411.55" y="491.70" width="14.70" height="21.80" fill="#fff" stroke="#000" stroke-width="1.45"/>
<line x1="441.3" y1="490.25" x2="441.3" y2="472.9" stroke="#000" stroke-width="1.5"/>
<line x1="436.7" y1="472.9" x2="445.90000000000003" y2="472.9" stroke="#000" stroke-width="1.45"/>
<rect x="434.05" y="490.90" width="14.50" height="22.60" fill="#000" stroke="#000" stroke-width="1.45"/>
<line x1="478.4" y1="484.05" x2="478.4" y2="477.2" stroke="#000" stroke-width="1.5"/>
<line x1="473.79999999999995" y1="477.2" x2="483.0" y2="477.2" stroke="#000" stroke-width="1.45"/>
<rect x="471.05" y="484.70" width="14.70" height="28.80" fill="#fff" stroke="#000" stroke-width="1.45"/>
<line x1="500.8" y1="473.75" x2="500.8" y2="444.9" stroke="#000" stroke-width="1.5"/>
<line x1="496.2" y1="444.9" x2="505.40000000000003" y2="444.9" stroke="#000" stroke-width="1.45"/>
<rect x="493.55" y="474.40" width="14.50" height="39.10" fill="#000" stroke="#000" stroke-width="1.45"/>
<line x1="400.5" y1="433.55" x2="400.5" y2="514.25" stroke="#000" stroke-width="1.6"/>
<line x1="399.7" y1="513.5" x2="520.1" y2="513.5" stroke="#000" stroke-width="1.5"/>
<line x1="430.1" y1="513.5" x2="430.1" y2="517.2" stroke="#000" stroke-width="1.4"/>
<line x1="489.6" y1="513.5" x2="489.6" y2="517.2" stroke="#000" stroke-width="1.4"/>
<text transform="translate(374.6,470.5) rotate(-90)" text-anchor="middle" font-size="11">MFI CCR7</text>
<text x="193.5" y="533.5" font-size="10.5">IL-21</text>
<text x="246.4" y="532.4" text-anchor="middle" font-size="15">-</text>
<text x="269.1" y="532.9" text-anchor="middle" font-size="16.5">+</text>
<text x="305.1" y="532.4" text-anchor="middle" font-size="15">-</text>
<text x="327.9" y="532.9" text-anchor="middle" font-size="16.5">+</text>
<line x1="232.6" y1="537.5" x2="274.8" y2="537.5" stroke="#000" stroke-width="1.3"/>
<line x1="295" y1="537.5" x2="337" y2="537.5" stroke="#000" stroke-width="1.3"/>
<text x="230.7" y="554.1" font-size="11">medium</text>
<text x="300.6" y="554.1" font-size="11">R848</text>
<text x="365.0" y="533.5" font-size="10.5">IL-21</text>
<text x="417.9" y="532.4" text-anchor="middle" font-size="15">-</text>
<text x="440.6" y="532.9" text-anchor="middle" font-size="16.5">+</text>
<text x="476.6" y="532.4" text-anchor="middle" font-size="15">-</text>
<text x="499.4" y="532.9" text-anchor="middle" font-size="16.5">+</text>
<line x1="404.1" y1="537.5" x2="446.3" y2="537.5" stroke="#000" stroke-width="1.3"/>
<line x1="466.5" y1="537.5" x2="508.5" y2="537.5" stroke="#000" stroke-width="1.3"/>
<text x="402.2" y="554.1" font-size="11">medium</text>
<text x="472.1" y="554.1" font-size="11">R848</text>
</svg></body></html>
